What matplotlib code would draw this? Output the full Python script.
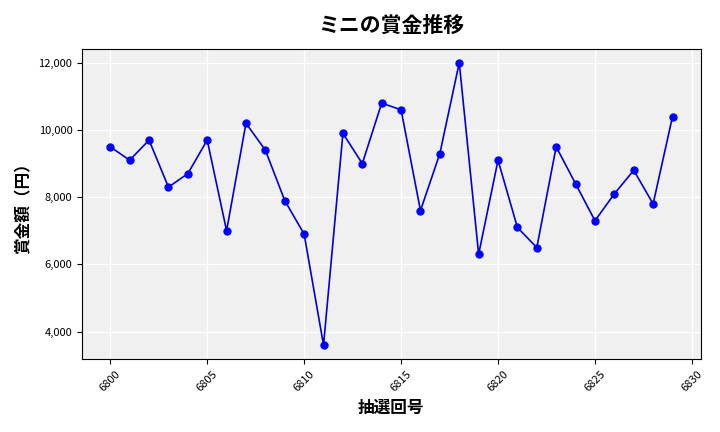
import matplotlib
matplotlib.use("Agg")
import matplotlib.pyplot as plt
from matplotlib.ticker import FuncFormatter

plt.rcParams['font.family'] = ['Noto Sans CJK JP', 'DejaVu Sans']

draws = list(range(6800, 6830))
prizes = [9500, 9100, 9700, 8300, 8700, 9700, 7000, 10200, 9400, 7900,
          6900, 3600, 9900, 9000, 10800, 10600, 7600, 9300, 12000, 6300,
          9100, 7100, 6500, 9500, 8400, 7300, 8100, 8800, 7800, 10400]

fig, ax = plt.subplots(figsize=(7.2, 4.32), dpi=100)
ax.set_facecolor('#f0f0f0')
ax.grid(color='white', linewidth=1)
ax.set_axisbelow(True)
ax.plot(draws, prizes, color='#0000dd', linewidth=1.2, marker='o', markersize=5,
        markerfacecolor='blue', markeredgecolor='blue')
ax.set_title('ミニの賞金推移', fontsize=15, fontweight='bold', pad=12)
ax.set_xlabel('抽選回号', fontsize=12, fontweight='bold')
ax.set_ylabel('賞金額（円）', fontsize=12, fontweight='bold')
ax.set_xticks(range(6800, 6831, 5))
ax.set_yticks(range(4000, 12001, 2000))
ax.yaxis.set_major_formatter(FuncFormatter(lambda v, p: f'{int(v):,}'))
ax.tick_params(axis='x', labelrotation=45, labelsize=8)
ax.tick_params(axis='y', labelsize=8)
fig.tight_layout()
fig.savefig('out.png')
